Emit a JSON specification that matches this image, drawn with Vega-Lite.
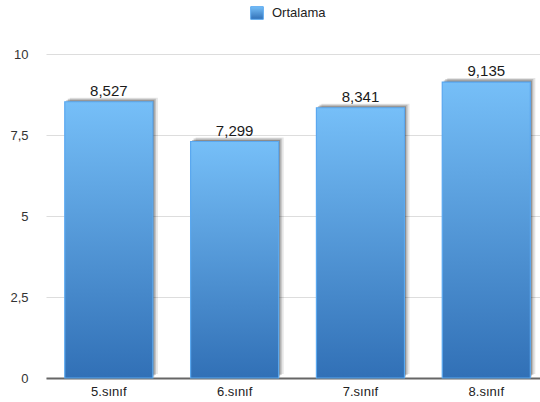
{
  "$schema": "https://vega.github.io/schema/vega-lite/v6.json",
  "autosize": {"type": "none"},
  "width": 494,
  "height": 324,
  "padding": {"left": 46, "top": 54, "right": 0, "bottom": 24},
  "background": "white",
  "config": {
    "locale": {"number": {"decimal": ",", "thousands": ".", "grouping": [3], "currency": ["", " ₺"]}},
    "font": "Liberation Sans",
    "view": {"stroke": null}
  },
  "data": {
    "values": [
      {"sinif": "5.sınıf", "seri": "Ortalama", "deger": 8.527},
      {"sinif": "6.sınıf", "seri": "Ortalama", "deger": 7.299},
      {"sinif": "7.sınıf", "seri": "Ortalama", "deger": 8.341},
      {"sinif": "8.sınıf", "seri": "Ortalama", "deger": 9.135}
    ]
  },
  "encoding": {
    "x": {
      "field": "sinif", "type": "nominal", "sort": null,
      "scale": {"paddingInner": 0.3, "paddingOuter": 0.113, "align": 0.66},
      "axis": {"title": null, "labelAngle": 0, "ticks": false, "labelFontSize": 13, "labelColor": "#222", "labelPadding": 7, "domainColor": "#666", "domainWidth": 2}
    },
    "y": {
      "field": "deger", "type": "quantitative",
      "scale": {"domain": [0, 10]},
      "axis": {"title": null, "values": [0, 2.5, 5, 7.5, 10], "format": ".1~f", "domain": false, "ticks": false, "labelFontSize": 13, "labelColor": "#333", "labelPadding": 18, "gridColor": "#dddddd", "gridWidth": 1}
    }
  },
  "layer": [
    {
      "mark": {"type": "bar", "fill": "#000", "fillOpacity": 0.1, "xOffset": 5, "yOffset": -4},
      "encoding": {}
    },
    {
      "mark": {"type": "bar", "fill": "#000", "fillOpacity": 0.18, "xOffset": 3, "yOffset": -3},
      "encoding": {}
    },
    {
      "mark": {"type": "bar", "fill": "#000", "fillOpacity": 0.25, "xOffset": 1.5, "yOffset": -1.5},
      "encoding": {}
    },
    {
      "mark": {
        "type": "bar",
        "fill": {"gradient": "linear", "x1": 0, "y1": 0, "x2": 0, "y2": 1, "stops": [{"offset": 0, "color": "#76bff8"}, {"offset": 1, "color": "#3170b6"}]},
        "strokeWidth": 1.2
      },
      "encoding": {
        "stroke": {
          "field": "seri", "type": "nominal",
          "scale": {"range": ["#5aa8f0"]},
          "legend": {"title": null, "orient": "none", "legendX": 204, "legendY": -48, "symbolType": "square", "symbolSize": 160, "symbolFillColor": "#4c9ae6", "symbolStrokeWidth": 1, "labelFontSize": 13, "labelColor": "#222", "labelOffset": 8, "padding": 0}
        }
      }
    },
    {
      "mark": {"type": "text", "fontSize": 15, "color": "#1a1a1a", "baseline": "alphabetic", "dy": -6},
      "encoding": {"text": {"field": "deger", "type": "quantitative", "format": ".3f"}}
    }
  ]
}
